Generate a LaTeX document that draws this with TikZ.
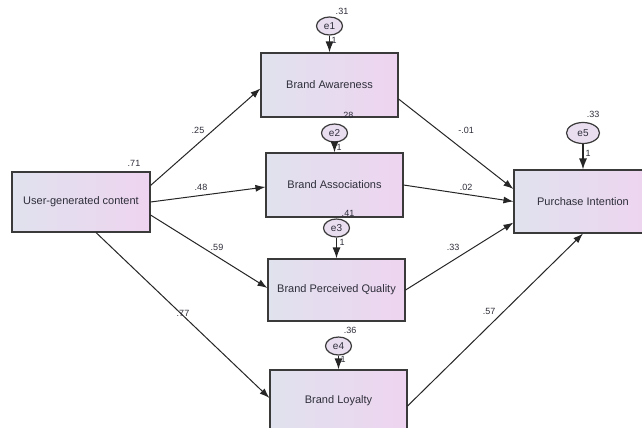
\documentclass[tikz,border=0pt]{standalone}
\usepackage{fontspec}
\setmainfont{Liberation Sans}
\usetikzlibrary{arrows.meta,shapes.geometric}
\definecolor{boxL}{HTML}{E0E2EE}
\definecolor{boxR}{HTML}{EED4F0}
\definecolor{errfill}{HTML}{E9DEF0}
\definecolor{edgec}{HTML}{3A3A3A}
\definecolor{txt}{HTML}{2E2E3A}
\tikzset{
  varbox/.style={draw=edgec, line width=1.1pt, rectangle, left color=boxL, right color=boxR,
    minimum width=137pt, minimum height=63pt, inner sep=0pt, text=txt, font=\fontsize{11}{13}\selectfont},
  errnode/.style={draw=edgec, line width=1.2pt, ellipse, fill=errfill, minimum width=26pt, minimum height=18pt,
    inner sep=0pt, text=txt, font=\fontsize{10}{12}\selectfont},
  coef/.style={text=txt, font=\fontsize{9}{11}\selectfont, inner sep=0pt},
  semarrow/.style={draw=black!85, line width=1pt, -{Latex[length=10pt,width=7pt]}},
  errarrow/.style={draw=black!85, line width=1.2pt, -{Latex[length=11pt,width=8pt]}}
}
\begin{document}
\begin{tikzpicture}[x=1pt,y=-1pt]
\useasboundingbox (0,0) rectangle (642,428);
\clip (0,0) rectangle (642,428);
\fill[white] (0,0) rectangle (642,428);

% boxes
\node[varbox, minimum width=138pt, minimum height=60pt] (ugc) at (81,202) {User-generated content};
\node[varbox, minimum height=64pt] (ba) at (329.5,85) {Brand Awareness};
\node[varbox, minimum height=64pt] (bas) at (334.5,185) {Brand Associations};
\node[varbox, minimum height=62pt] (bpq) at (336.5,290) {Brand Perceived Quality};
\node[varbox, minimum height=62pt] (bl) at (338.5,401) {Brand Loyalty};
\node[varbox, minimum width=138pt] (pi) at (583,201.5) {Purchase Intention};

% error terms
\node[errnode] (e1) at (329.5,26) {e1};
\node[errnode] (e2) at (334.5,133) {e2};
\node[errnode] (e3) at (336.5,228) {e3};
\node[errnode] (e4) at (338.5,346) {e4};
\node[errnode, minimum width=33pt, minimum height=21pt] (e5) at (583,133) {e5};

\draw[errarrow] (e1) -- (ba.north);
\draw[errarrow] (e2) -- (bas.north);
\draw[errarrow] (e3) -- (bpq.north);
\draw[errarrow] (e4) -- (bl.north);
\draw[errarrow] (e5) -- (pi.north);

% structural paths
\draw[semarrow] ([yshift=-14pt]ugc.north east) -- ([yshift=-36pt]ba.north west);
\draw[semarrow] (ugc.east) -- ([yshift=-2pt]bas.west);
\draw[semarrow] ([yshift=-13pt]ugc.east) -- ([yshift=2pt]bpq.west);
\draw[semarrow] ([xshift=15pt]ugc.south) -- ([yshift=3pt]bl.west);
\draw[semarrow] ([yshift=-14pt]ba.east) -- ([yshift=12.5pt]pi.west);
\draw[semarrow] (bas.east) -- (pi.west);
\draw[semarrow] (bpq.east) -- ([yshift=11pt]pi.south west);
\draw[semarrow] ([yshift=-5pt]bl.east) -- (pi.south);

% coefficients
\node[coef] (l71) at (134,163) {.71};
\node[coef] (l25) at (198,130) {.25};
\node[coef] (l48) at (201,187) {.48};
\node[coef] (l59) at (217,247) {.59};
\node[coef] (l77) at (183,313) {.77};
\node[coef] (l01) at (466,130) {-.01};
\node[coef] (l02) at (466,187) {.02};
\node[coef] (l33) at (453,247) {.33};
\node[coef] (l57) at (489,311) {.57};

% variances and fixed loadings
\node[coef] (v1) at (342,11) {.31};
\node[coef] (v2) at (347,115) {.28};
\node[coef] (v3) at (348,213) {.41};
\node[coef] (v4) at (350,330) {.36};
\node[coef] (v5) at (593,114) {.33};
\node[coef] (f1) at (334,40) {1};
\node[coef] (f2) at (339,147) {1};
\node[coef] (f3) at (342,242) {1};
\node[coef] (f4) at (343,359) {1};
\node[coef] (f5) at (588,153) {1};
\end{tikzpicture}
\end{document}
